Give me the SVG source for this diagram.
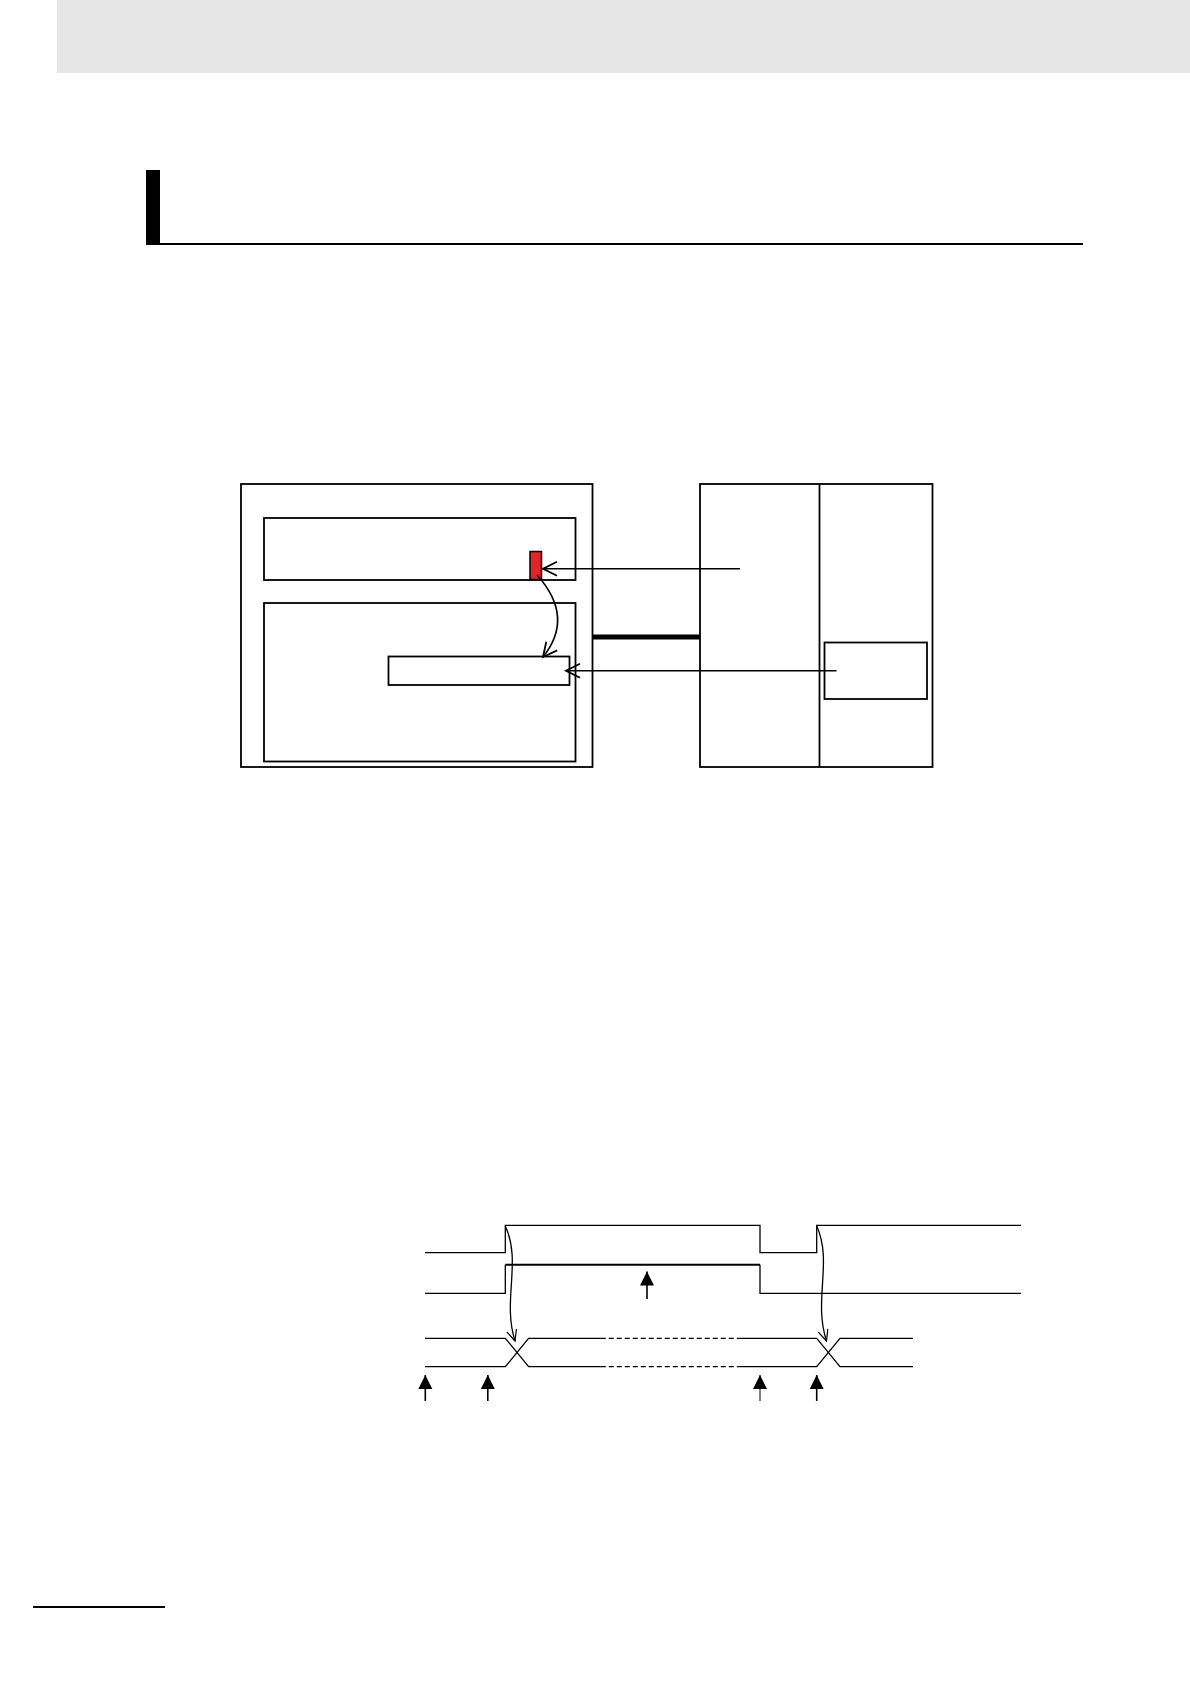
<svg xmlns="http://www.w3.org/2000/svg" width="1190" height="1684" viewBox="0 0 1190 1684">
<defs>
<style>
.box{fill:none;stroke:#000;stroke-width:1.8}
.ln{fill:none;stroke:#000;stroke-width:1.3}
.conn{fill:none;stroke:#000;stroke-width:1.6}
</style>
<marker id="open" markerUnits="userSpaceOnUse" markerWidth="20" markerHeight="20" viewBox="0 0 20 20" refX="16" refY="10" orient="auto">
<path d="M2,3 L16,10 L2,17" fill="none" stroke="#000" stroke-width="1.8"/>
</marker>
<marker id="openS" markerUnits="userSpaceOnUse" markerWidth="16" markerHeight="16" viewBox="0 0 16 16" refX="13" refY="8" orient="auto">
<path d="M2,3 L13,8 L2,13" fill="none" stroke="#000" stroke-width="1.2"/>
</marker>
<marker id="solid" markerUnits="userSpaceOnUse" markerWidth="20" markerHeight="20" viewBox="0 0 20 20" refX="18" refY="10" orient="auto">
<path d="M4,3 L18,10 L4,17 Z" fill="#000"/>
</marker>
</defs>
<rect width="1190" height="1684" fill="#fff"/>
<g id="header">
<rect x="57" y="0" width="1133" height="73" fill="#e6e6e6"/>
</g>
<g id="title">
<rect x="146" y="170" width="14" height="75" fill="#000"/>
<line x1="146" y1="244" x2="1083" y2="244" stroke="#000" stroke-width="2.2"/>
</g>
<g id="footer">
<line x1="33" y1="1607" x2="165" y2="1607" stroke="#000" stroke-width="2.2"/>
</g>
<g id="controller">
<rect class="box" x="241" y="484" width="351.5" height="283"/>
</g>
<g id="upper-area">
<rect class="box" x="264" y="518" width="311.5" height="62"/>
</g>
<g id="red-bit">
<rect x="530" y="551.5" width="11.5" height="28" fill="#e0242a" stroke="#000" stroke-width="1.5"/>
</g>
<g id="lower-area">
<rect class="box" x="264" y="603" width="311.5" height="158.5"/>
</g>
<g id="lower-field">
<rect class="box" x="388.5" y="656.5" width="181" height="28.5"/>
</g>
<g id="unit">
<rect class="box" x="700" y="484" width="232.5" height="283"/>
<line class="box" x1="819.5" y1="484" x2="819.5" y2="767"/>
</g>
<g id="unit-field">
<rect class="box" x="824.5" y="642.5" width="102.5" height="56.5"/>
</g>
<g id="connectors">
<line x1="592.5" y1="637" x2="700" y2="637" stroke="#000" stroke-width="5"/>
<line class="conn" x1="740" y1="568.7" x2="543" y2="568.7" marker-end="url(#open)"/>
<line class="conn" x1="836.5" y1="670.7" x2="566" y2="670.7" marker-end="url(#open)"/>
<path class="conn" d="M537 575 Q575 617 543 657" marker-end="url(#open)"/>
</g>
<g id="timing-signal1">
<polyline class="ln" points="425,1252.7 505.3,1252.7 505.3,1225.3 760,1225.3 760,1252.7 816.7,1252.7 816.7,1225.3 1021,1225.3"/>
</g>
<g id="timing-signal2">
<polyline class="ln" points="425,1293.3 505.3,1293.3 505.3,1264.7"/>
<line x1="505.3" y1="1264.7" x2="760" y2="1264.7" stroke="#000" stroke-width="2"/>
<polyline class="ln" points="760,1264.7 760,1293.3 1021,1293.3"/>
</g>
<g id="timing-bus">
<polyline class="ln" points="425,1338.3 505.3,1338.3 528.6,1366.7 600.8,1366.7"/>
<polyline class="ln" points="425,1366.7 505.3,1366.7 528.6,1338.3 600.8,1338.3"/>
<line class="ln" x1="600.8" y1="1338.3" x2="738" y2="1338.3" stroke-dasharray="5,3"/>
<line class="ln" x1="600.8" y1="1366.7" x2="738" y2="1366.7" stroke-dasharray="5,3"/>
<polyline class="ln" points="738,1338.3 816.7,1338.3 840,1366.7 913,1366.7"/>
<polyline class="ln" points="738,1366.7 816.7,1366.7 840,1338.3 913,1338.3"/>
</g>
<g id="timing-connectors">
<path class="ln" d="M505.3 1226 C522 1262, 502 1300, 515 1341" marker-end="url(#openS)"/>
<path class="ln" d="M816.7 1226 C833 1262, 813 1300, 826.5 1341" marker-end="url(#openS)"/>
<line x1="647" y1="1299" x2="647" y2="1271.5" stroke="#000" stroke-width="1.6" marker-end="url(#solid)"/>
<line x1="425.3" y1="1401" x2="425.3" y2="1375" stroke="#000" stroke-width="1.6" marker-end="url(#solid)"/>
<line x1="487.8" y1="1401" x2="487.8" y2="1375" stroke="#000" stroke-width="1.6" marker-end="url(#solid)"/>
<line x1="760" y1="1401" x2="760" y2="1375" stroke="#000" stroke-width="1" marker-end="url(#solid)"/>
<line x1="816.7" y1="1401" x2="816.7" y2="1375" stroke="#000" stroke-width="1.6" marker-end="url(#solid)"/>
</g>
</svg>
